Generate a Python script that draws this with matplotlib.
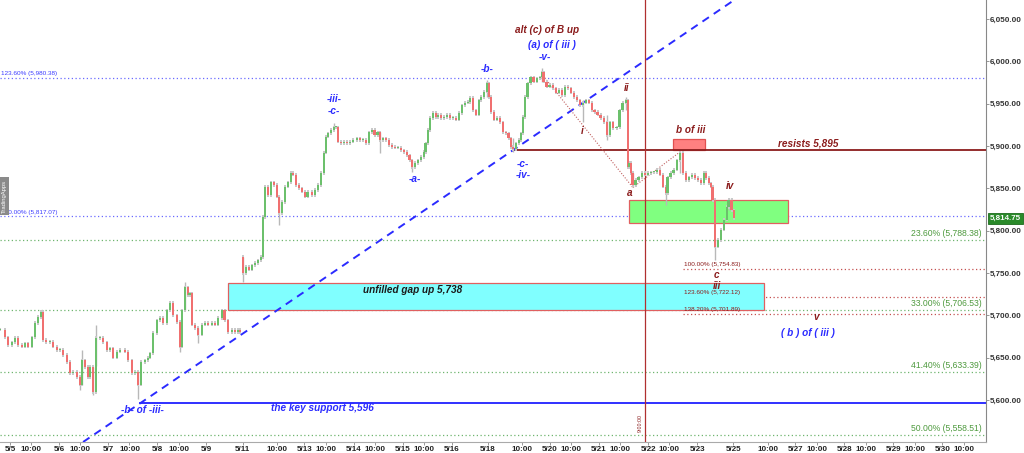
import matplotlib
matplotlib.use("Agg")
import matplotlib.pyplot as plt
from matplotlib.patches import Rectangle
import matplotlib.transforms as mtransforms

plt.rcParams['font.family'] = ['Liberation Sans', 'DejaVu Sans']

# ---------------- data ----------------
# time axis: trading hours since 5/5 00:00 (about 23 trading hours per day, weekends collapsed)
hours = [-4.7, -2.3, -0.9, 0.9, 2.3, 3.7, 5.6, 7.0, 8.4, 10.3, 11.7, 13.1, 14.5, 15.5, 16.9, 18.7,
         20.1, 22.0, 23.4, 24.8, 26.7, 28.1, 29.5, 31.4, 32.8, 33.7, 35.1, 36.6, 37.5, 38.9, 40.3,
         42.2, 43.6, 45.5, 46.9, 48.3, 50.1, 51.5, 53.9, 55.3, 57.2, 58.6, 60.0, 61.4, 63.3, 64.7,
         65.6, 67.0, 68.9, 70.3, 71.7, 73.6, 75.0, 76.4, 78.3, 79.7, 80.6, 82.0, 83.4, 84.3, 85.3,
         86.7, 88.1, 90.0, 91.4, 92.8, 94.7, 96.1, 97.5, 99.3, 100.7, 102.2, 104.0, 105.4, 106.8,
         107.8,
         109.2, 110.6, 112.0, 113.4, 114.8, 116.2, 117.6, 118.6, 119.5, 120.9, 122.3, 123.7, 125.1,
         126.1, 127.5, 128.9, 130.3, 131.7, 132.6, 134.0, 135.4, 136.8, 138.2, 139.6, 141.5, 142.9,
         144.3, 145.7, 147.1, 148.1, 149.0, 150.4, 151.8, 152.8, 153.7, 155.1, 156.5, 157.9, 159.3,
         160.7, 162.6, 164.0, 165.4, 166.8, 168.2, 169.6, 171.0, 172.4, 173.4, 174.8, 176.2, 177.6,
         179.0, 180.4, 181.8, 183.2, 184.6, 186.0, 187.4, 188.4, 189.8, 191.2, 192.6, 194.0, 194.9,
         195.9, 196.8, 198.2, 199.6, 200.6, 202.0, 203.4, 204.8, 206.2, 207.6, 209.0, 210.4, 211.8,
         213.2, 214.6, 215.6, 217.0, 218.4, 219.8, 220.7, 222.1, 223.5,
         224.5, 225.4, 226.8, 228.2, 229.6, 231.0, 232.4, 233.8, 234.8, 235.7, 237.1, 238.5, 239.5,
         240.4, 241.3, 242.7, 244.1, 245.5, 247.0, 248.4, 249.3, 250.2, 251.6, 253.0, 254.5, 255.9,
         257.3, 258.7, 260.1, 261.5, 262.9, 264.3, 265.7, 267.1, 268.5, 269.9, 271.3, 272.7, 274.1,
         275.5, 276.9, 278.4, 279.8, 281.2, 282.6, 284.4, 285.8, 287.2, 288.7, 289.6, 290.5, 291.0,
         291.9, 293.3, 294.7, 296.2, 297.6, 299.0, 300.4, 301.8, 303.2, 304.6, 306.0, 307.4, 308.3,
         309.7, 311.1, 312.6, 314.0, 315.4, 316.8, 318.2, 319.6, 321.0, 322.4, 323.8, 325.2, 326.2,
         327.6, 328.5, 329.4, 330.4, 331.8, 333.2, 334.6, 336.0, 336.9, 338.3, 339.3]
closes = [5683, 5674, 5665, 5668, 5673, 5665, 5663, 5667, 5663, 5674, 5691, 5698, 5704, 5671, 5668, 5669,
          5663, 5659, 5659, 5653, 5645, 5632, 5633, 5627, 5618, 5647, 5639, 5627, 5639, 5609, 5673,
          5673, 5668, 5659, 5661, 5650, 5657, 5659, 5657, 5647, 5632, 5633, 5618, 5645, 5647, 5650,
          5655, 5679, 5694, 5697, 5691, 5706, 5715, 5700, 5692, 5663, 5706, 5733, 5724, 5726, 5689,
          5685, 5677, 5689, 5691, 5689, 5691, 5689, 5697, 5706, 5694, 5680, 5683, 5680, 5683,
          5680,
          5750, 5757, 5754, 5759, 5762, 5765, 5769, 5816, 5852, 5842, 5857, 5854, 5840,
          5821, 5834, 5852, 5857, 5868, 5866, 5854, 5850, 5846, 5840, 5846, 5842, 5848,
          5854, 5868, 5892, 5911, 5915, 5919, 5922, 5922, 5905, 5903, 5905, 5903, 5905,
          5907, 5909, 5907, 5907, 5903, 5916, 5919, 5913, 5916, 5907, 5909, 5907, 5901,
          5899, 5898, 5898, 5895, 5893, 5889, 5883, 5875, 5880, 5883, 5887, 5893, 5903,
          5919, 5933, 5939, 5934, 5937, 5933, 5934, 5937, 5933, 5933, 5931, 5939, 5948,
          5951, 5952, 5957, 5942, 5937, 5954, 5958, 5964, 5974,
          5958, 5940, 5931, 5933, 5928, 5916, 5915, 5909, 5899, 5896, 5903, 5907, 5915,
          5934, 5958, 5974, 5981, 5976, 5980, 5981, 5987, 5976, 5970, 5972, 5968, 5963,
          5966, 5960, 5970, 5968, 5963, 5958, 5954, 5948, 5951, 5954, 5951, 5942, 5940,
          5937, 5933, 5928, 5913, 5928, 5921, 5922, 5942, 5951, 5954, 5875, 5880, 5868,
          5854, 5860, 5863, 5868, 5866, 5868, 5869, 5869, 5872, 5866, 5852, 5844, 5863,
          5868, 5872, 5883, 5892, 5868, 5860, 5863, 5866, 5862, 5860, 5856, 5868, 5862,
          5856, 5852, 5836, 5781, 5789, 5801, 5813, 5828, 5836, 5824, 5814.75]
# session opens after the weekend gap (hour index -> open price)
gap_opens = {109.2: 5769}
# notable wicks
wick_hours = [32.8, 33.7, 38.9, 40.3, 60.0, 79.7, 82.0, 88.1, 109.2, 126.1, 151.8, 173.4, 188.4,
              223.5, 235.7, 249.3, 268.5, 279.8, 288.7, 291.9, 307.4, 314.0, 330.4, 336.9]
wick_lows = [5612, 5618, 5606, 5640, 5601, 5657, 5706, 5667, 5739, 5807, 5922, 5892, 5869,
             5958, 5893, 5976, 5928, 5907, 5942, 5851, 5830, 5868, 5765, 5824]
wick_highs = [5627, 5659, 5639, 5689, 5633, 5692, 5739, 5685, 5769, 5840, 5927, 5916, 5883,
              5978, 5909, 5992, 5954, 5937, 5958, 5868, 5852, 5893, 5790, 5838]

tick_hours = [0, 10, 23, 33, 46, 56, 69, 79, 92, 109, 125, 138, 148, 161, 171, 184, 194, 207, 224,
              240, 253, 263, 276, 286, 299, 309, 322, 339, 355, 368, 378, 391, 401, 414, 424, 437, 447]
tick_labels = ['5/5', '10:00', '5/6', '10:00', '5/7', '10:00', '5/8', '10:00', '5/9', '5/11', '10:00',
               '5/13', '10:00', '5/14', '10:00', '5/15', '10:00', '5/16', '5/18', '10:00', '5/20',
               '10:00', '5/21', '10:00', '5/22', '10:00', '5/23', '5/25', '10:00', '5/27', '10:00',
               '5/28', '10:00', '5/29', '10:00', '5/30', '10:00']
price_ticks = [5600, 5650, 5700, 5750, 5800, 5850, 5900, 5950, 6000, 6050]

fib_blue_labels = ['123.60% (5,980.38)', '100.00% (5,817.07)']
fib_blue_levels = [5980.38, 5817.07]
fib_green_labels = ['23.60% (5,788.38)', '33.00% (5,706.53)', '41.40% (5,633.39)', '50.00% (5,558.51)']
fib_green_levels = [5788.38, 5706.53, 5633.39, 5558.51]
fib_red_labels = ['100.00% (5,754.83)', '123.60% (5,722.12)', '138.20% (5,701.89)']
fib_red_levels = [5754.83, 5722.12, 5701.89]

resist_level = 5895
support_level = 5596
gap_zone = (5706.5, 5738)
green_zone = (5809, 5836)
b_zone = (5895, 5908)
last_price = 5814.75
trend_points = [(60.9, 5596), (235.7, 5895)]
wave_path_1 = [(249.8, 5983), (291.9, 5851)]
wave_path_2 = [(291.9, 5851), (314.0, 5893)]
marker_hour = 297.6

# ---------------- figure ----------------
W, H = 1024, 453
fig = plt.figure(figsize=(W / 100, H / 100), dpi=100)
ax = fig.add_axes([0, 11 / H, 986 / W, 442 / H])
ax.set_xlim(-4.69, 457.4)
ax.set_ylim(5550.4, 6072.4)

BLUE = '#2b2bff'
DRED = '#8b1c1c'
GREEN_T = '#4e9a3e'

# fib lines
for lab, lv in zip(fib_blue_labels, fib_blue_levels):
    ax.axhline(lv, color='#6a6aff', lw=0.9, ls=(0, (1, 2)), zorder=1)
    ax.text(-4.0, lv + 2.0, lab, color='#3c3cff', fontsize=4.6, ha='left', va='bottom', zorder=6)
for lab, lv in zip(fib_green_labels, fib_green_levels):
    ax.axhline(lv, color='#6fb56f', lw=0.9, ls=(0, (1, 2)), zorder=1)
    ax.text(455.5, lv + 2.5, lab, color=GREEN_T, fontsize=6.2, ha='right', va='bottom', zorder=6)
for lab, lv in zip(fib_red_labels, fib_red_levels):
    ax.plot([315.4, 457.4], [lv, lv], color='#c45050', lw=0.9, ls=(0, (1, 2)), zorder=1)
    ax.text(316.0, lv + 2.0, lab, color=DRED, fontsize=4.6, ha='left', va='bottom', zorder=6)

# zones
ax.add_patch(Rectangle((102.2, gap_zone[0]), 353.3 - 102.2, gap_zone[1] - gap_zone[0],
                       facecolor='#80ffff', edgecolor='#e06060', lw=0.9, zorder=2))
ax.add_patch(Rectangle((290.0, green_zone[0]), 364.6 - 290.0, green_zone[1] - green_zone[0],
                       facecolor='#80ff80', edgecolor='#e06060', lw=0.9, zorder=2))
ax.add_patch(Rectangle((310.7, b_zone[0]), 325.7 - 310.7, b_zone[1] - b_zone[0],
                       facecolor='#ff8080', edgecolor='#e05050', lw=0.9, zorder=2))

# horizontal key lines
ax.plot([235.7, 457.4], [resist_level, resist_level], color='#8b1c1c', lw=1.3, zorder=3)
ax.plot([60.9, 457.4], [support_level, support_level], color='#2020ff', lw=1.3, zorder=3)

# trendline
ax.axline(trend_points[0], trend_points[1], color='#2b2bff', lw=1.4, ls=(0, (4, 3)), zorder=3)

# wave connectors
for pth in (wave_path_1, wave_path_2):
    ax.plot([p[0] for p in pth], [p[1] for p in pth], color='#c06060', lw=0.8, ls=(0, (1, 1.5)), zorder=3)

# vertical marker
ax.axvline(marker_hour, color='#b03030', lw=0.9, zorder=3)
ax.text(marker_hour - 1.0, 5562, '9:00:00', rotation=90, fontsize=3.8, color=DRED,
        ha='right', va='bottom', zorder=6)

# candles
ax.vlines(wick_hours, wick_lows, wick_highs, color='#b8b8b8', lw=1.0, zorder=4)
for i, (h, c) in enumerate(zip(hours, closes)):
    o = gap_opens.get(h, closes[i - 1] if i > 0 else c)
    lo, hi = min(o, c), max(o, c)
    col = '#6cc06c' if c >= o else '#f07070'
    ax.vlines(h, lo - 2.0, hi + 2.0, color='#c8c8c8', lw=1.4, zorder=4)
    ax.bar(h, max(hi - lo, 1.2), bottom=lo, width=1.3, color=col, lw=0, zorder=5)

# annotations
def lbl(x, y, s, color, size=7.2):
    ax.text(x, y, s, color=color, fontsize=size, fontweight='bold', fontstyle='italic',
            ha='center', va='center', zorder=7)

lbl(151.8, 5955.5, '-iii-', BLUE)
lbl(151.8, 5941, '-c-', BLUE)
lbl(223.5, 5991, '-b-', BLUE)
lbl(189.8, 5861, '-a-', BLUE)
lbl(240.4, 5879, '-c-', BLUE)
lbl(240.4, 5866, '-iv-', BLUE)
lbl(250.7, 6005, '-v-', BLUE)
lbl(254.0, 6019, '(a) of ( iii )', BLUE)
lbl(251.6, 6037, 'alt (c) of B up', DRED)
lbl(62.0, 5588, '-b- of -iii-', BLUE)
lbl(374.0, 5679, '( b ) of ( iii )', BLUE)
lbl(146.2, 5590.5, 'the key support 5,596', BLUE)
lbl(188.8, 5730, 'unfilled gap up 5,738', '#1a1a1a')
lbl(374.0, 5903.5, 'resists 5,895', DRED)
lbl(268.0, 5918, 'i', DRED)
lbl(289.0, 5968.5, 'ii', DRED)
lbl(290.5, 5844.5, 'a', DRED)
lbl(319.0, 5919, 'b of iii', DRED)
lbl(337.4, 5853, 'iv', DRED)
lbl(331.3, 5747.6, 'c', DRED)
lbl(331.3, 5734.6, 'iii', DRED)
lbl(377.7, 5698, 'v', DRED)

# axes styling
for s in ('top', 'left'):
    ax.spines[s].set_visible(False)
ax.spines['right'].set_color('#888888')
ax.spines['bottom'].set_color('#aaaaaa')
ax.spines['right'].set_linewidth(0.8)
ax.spines['bottom'].set_linewidth(0.8)
ax.yaxis.tick_right()
ax.set_yticks(price_ticks)
ax.set_yticklabels([f'{v:,.2f}' for v in price_ticks], fontsize=5.8, color='#333333',
                   fontweight='bold')
ax.tick_params(axis='y', length=2, width=0.6, color='#888888', pad=1)
ax.set_xticks(tick_hours)
ax.set_xticklabels(tick_labels, fontsize=5.8, fontweight='bold', color='#222222')
ax.tick_params(axis='x', length=2, width=0.6, color='#888888', pad=1)

# last price tag
trans = mtransforms.blended_transform_factory(ax.transAxes, ax.transData)
ax.text(1.004, last_price, '5,814.75', transform=trans, fontsize=5.8, fontweight='bold',
        color='white', ha='left', va='center', zorder=8, clip_on=False,
        bbox=dict(boxstyle='square,pad=0.25', facecolor='#2a8a2a', edgecolor='#1d6b1d', lw=0.6))

# side tab
fig.text(4 / W, 1 - 196 / H, 'TradingApps', rotation=90, fontsize=4.2, color='white',
         ha='center', va='center',
         bbox=dict(boxstyle='square,pad=0.35', facecolor='#8a8a8a', edgecolor='none'))

fig.savefig('out.png', dpi=100)
